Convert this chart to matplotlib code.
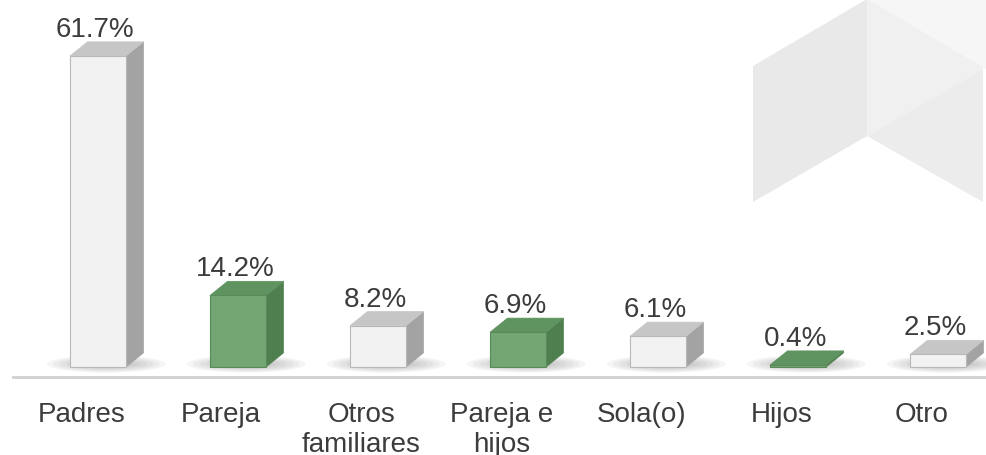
import matplotlib
matplotlib.use("Agg")
import matplotlib.pyplot as plt
from matplotlib.patches import Polygon, Ellipse
import numpy as np

categories = ["Padres", "Pareja", "Otros\nfamiliares", "Pareja e\nhijos", "Sola(o)", "Hijos", "Otro"]
values = [61.7, 14.2, 8.2, 6.9, 6.1, 0.4, 2.5]
labels = ["61.7%", "14.2%", "8.2%", "6.9%", "6.1%", "0.4%", "2.5%"]
is_green = [False, True, False, True, False, True, False]

plt.rcParams["font.family"] = ["Liberation Sans", "DejaVu Sans"]
text_color = "#3c3c3c"

fig = plt.figure(figsize=(9.86, 4.56), dpi=100)
W, H = 986, 456


def fig_poly(points, color):
	pts = [(x / W, 1 - y / H) for x, y in points]
	fig.patches.append(
		Polygon(pts, closed=True, transform=fig.transFigure, facecolor=color, edgecolor="none", zorder=0)
	)


# watermark shape in the top right corner
fig_poly([(867, 0), (986, 0), (986, 70), (983, 68)], "#f6f6f6")
fig_poly([(753, 67), (867, 0), (867, 137), (753, 203)], "#e9e9e9")
fig_poly([(867, 0), (983, 68), (983, 70), (867, 137)], "#f0f0f0")
fig_poly([(867, 137), (983, 70), (983, 203)], "#ececec")

ax = fig.add_axes([0, (H - 378) / H, 1, 378 / H])
ax.set_facecolor("none")
ax.set_xlim(-0.7, 6.343)
ax.set_ylim(-1.98, 73.0)

x = np.arange(len(values))
bar_w = 0.4
dx = 0.125
dy = 2.8

for xi, v, lab, green in zip(x, values, labels, is_green):
	left = xi - bar_w / 2
	right = xi + bar_w / 2
	if green:
		front, side, top, edge = "#74a674", "#4f7f4f", "#5f935f", "#5a8a5a"
	else:
		front, side, top, edge = "#f2f2f2", "#a3a3a3", "#c6c6c6", "#b8b8b8"

	# soft shadow on the floor
	for k in range(6):
		ax.add_patch(Ellipse((xi + 0.06, 0.6), 0.85 - k * 0.09, 3.4 - k * 0.4,
			facecolor="#808080", alpha=0.08, edgecolor="none", zorder=1))

	ax.bar(xi, v, width=bar_w, color=front, edgecolor=edge, linewidth=0.8, zorder=3)
	ax.add_patch(Polygon([(right, 0), (right + dx, dy), (right + dx, v + dy), (right, v)],
		closed=True, facecolor=side, edgecolor=side, linewidth=0.5, zorder=2))
	ax.add_patch(Polygon([(left, v), (left + dx, v + dy), (right + dx, v + dy), (right, v)],
		closed=True, facecolor=top, edgecolor=top, linewidth=0.5, zorder=2))

	ax.text(xi - 0.02, v + dy + 1.2, lab,
		ha="center", va="baseline", fontsize=20, color=text_color)

ax.set_xticks(x - 0.12, categories)
ax.tick_params(axis="x", length=0, pad=17, labelsize=20, labelcolor=text_color)
ax.set_yticks([])
for name in ["top", "left", "right"]:
	ax.spines[name].set_visible(False)
ax.spines["bottom"].set_color("#d0d0d0")
ax.spines["bottom"].set_linewidth(2)
ax.spines["bottom"].set_bounds(-0.61, 6.343)
for t in ax.get_xticklabels():
	t.set_multialignment("center")
	t.set_linespacing(1.2)

fig.savefig("out.png", dpi=100)
